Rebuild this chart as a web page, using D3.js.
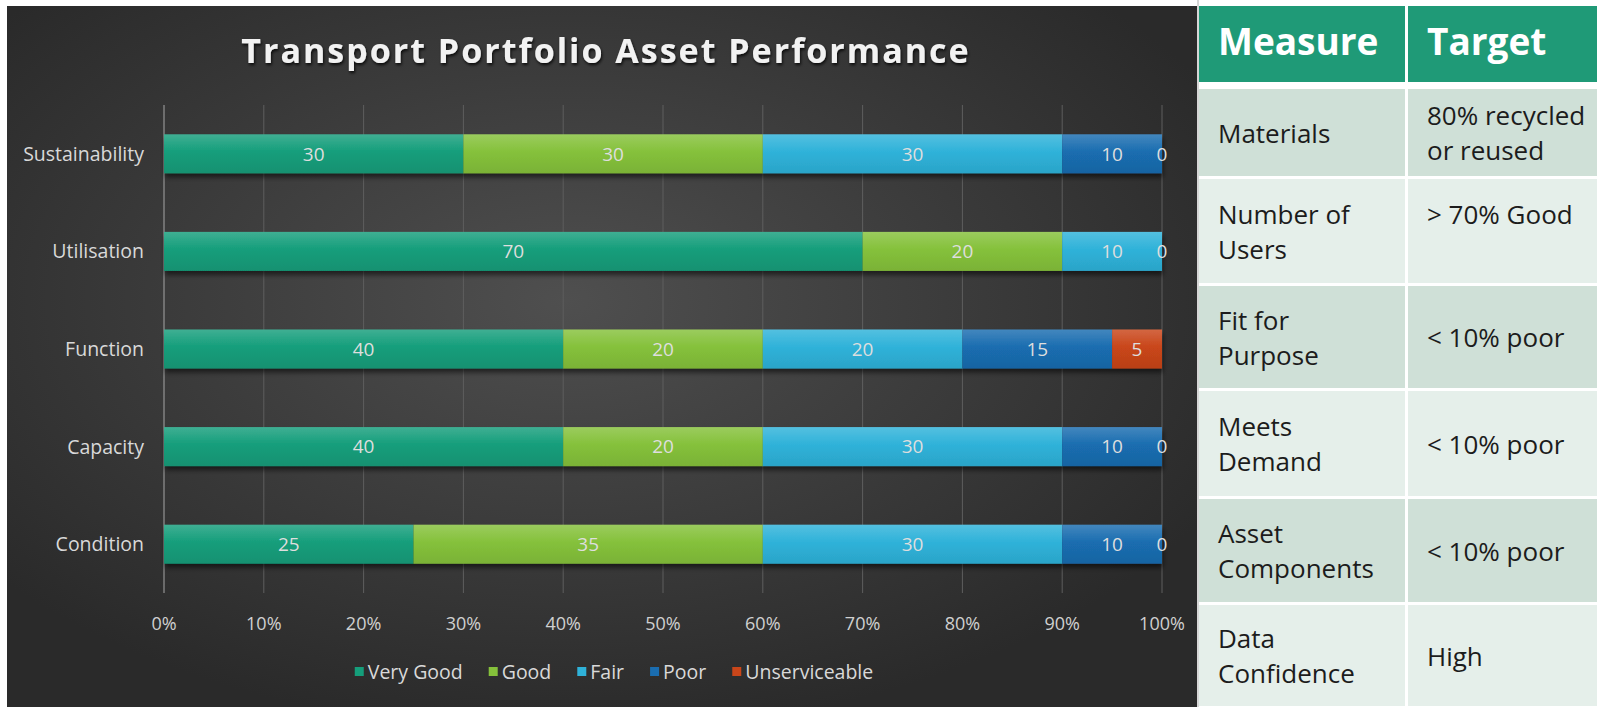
<!DOCTYPE html>
<html>
<head>
<meta charset="utf-8">
<script src="https://cdn.jsdelivr.net/npm/d3@7"></script>
<style>
  body { margin: 0; background: #ffffff; }
  svg { display: block; }
</style>
</head>
<body>
<div id="chart"></div>
<script>
// chart data
let categories = ["Sustainability", "Utilisation", "Function", "Capacity", "Condition"]
let seriesNames = ["Very Good", "Good", "Fair", "Poor", "Unserviceable"]
let veryGood = [30, 70, 40, 40, 25]
let good = [30, 20, 20, 20, 35]
let fair = [30, 10, 20, 30, 30]
let poor = [10, 0, 15, 10, 10]
let unserviceable = [0, null, 5, 0, 0]
let xTicks = [0, 10, 20, 30, 40, 50, 60, 70, 80, 90, 100]
let colors = ["#159e7b", "#85c13b", "#2fb2d9", "#1a6db0", "#c9461a"]

// table data
let tableHead = ["Measure", "Target"]
let measures = [["Materials"], ["Number of", "Users"], ["Fit for", "Purpose"], ["Meets", "Demand"], ["Asset", "Components"], ["Data", "Confidence"]]
let targets = [["80% recycled", "or reused"], ["> 70% Good", ""], ["< 10% poor"], ["< 10% poor"], ["< 10% poor"], ["High"]]

let seriesValues = [veryGood, good, fair, poor, unserviceable]

var W = 1597, H = 707
var panel = {x: 7, y: 6, w: 1190, h: 701}
var plot = {left: 164, right: 1162, top: 105, bottom: 593}

var svg = d3.select("#chart")
  .append("svg")
  .attr("width", W)
  .attr("height", H)

var defs = svg.append("defs")

var bg = defs.append("radialGradient")
  .attr("id", "bg")
  .attr("cx", "47%").attr("cy", "42%").attr("r", "62%")
bg.append("stop").attr("offset", "0%").attr("stop-color", "#4f4f4f")
bg.append("stop").attr("offset", "100%").attr("stop-color", "#2a2a2a")

colors.forEach(function(c, i) {
  var g = defs.append("linearGradient")
    .attr("id", "bar" + i)
    .attr("x1", 0).attr("y1", 0).attr("x2", 0).attr("y2", 1)
  g.append("stop").attr("offset", "0%").attr("stop-color", d3.interpolateRgb(c, "#ffffff")(0.18))
  g.append("stop").attr("offset", "45%").attr("stop-color", c)
  g.append("stop").attr("offset", "100%").attr("stop-color", d3.interpolateRgb(c, "#000000")(0.08))
})

var shadow = defs.append("filter").attr("id", "shadow")
  .attr("x", "-5%").attr("y", "-30%").attr("width", "110%").attr("height", "180%")
shadow.append("feDropShadow")
  .attr("dx", 1).attr("dy", 4).attr("stdDeviation", 2.5)
  .attr("flood-color", "#000").attr("flood-opacity", 0.55)

var tshadow = defs.append("filter").attr("id", "tshadow")
  .attr("x", "-5%").attr("y", "-30%").attr("width", "110%").attr("height", "180%")
tshadow.append("feDropShadow")
  .attr("dx", 1).attr("dy", 2).attr("stdDeviation", 1.5)
  .attr("flood-color", "#000").attr("flood-opacity", 0.8)

// chart panel
svg.append("rect")
  .attr("x", panel.x).attr("y", panel.y)
  .attr("width", panel.w).attr("height", panel.h)
  .attr("fill", "url(#bg)")

svg.append("text")
  .attr("x", 606)
  .attr("y", 63)
  .attr("text-anchor", "middle")
  .attr("font-family", "Open Sans")
  .attr("font-weight", "bold")
  .attr("font-size", 34)
  .attr("letter-spacing", 2)
  .attr("fill", "#f2f2f2")
  .attr("filter", "url(#tshadow)")
  .text("Transport Portfolio Asset Performance")

var x = d3.scaleLinear()
  .domain([0, 100])
  .range([plot.left, plot.right])

var y = d3.scaleBand()
  .domain(categories)
  .range([plot.top, plot.bottom])
  .paddingInner(0.6)
  .paddingOuter(0.3)

// gridlines
svg.append("g")
  .attr("class", "grid")
  .selectAll("line")
  .data(xTicks)
  .join("line")
  .attr("x1", d => x(d)).attr("x2", d => x(d))
  .attr("y1", plot.top).attr("y2", plot.bottom)
  .attr("stroke", d => d === 0 ? "#a6a6a6" : "#5e5e5e")
  .attr("stroke-width", 1)

svg.append("g")
  .selectAll("text")
  .data(xTicks)
  .join("text")
  .attr("x", d => x(d))
  .attr("y", 630)
  .attr("text-anchor", "middle")
  .attr("font-family", "Open Sans")
  .attr("font-size", 18)
  .attr("fill", "#d0d0d0")
  .text(d => d + "%")

svg.append("g")
  .selectAll("text")
  .data(categories)
  .join("text")
  .attr("x", plot.left - 20)
  .attr("y", d => y(d) + y.bandwidth() / 2)
  .attr("dy", "0.36em")
  .attr("text-anchor", "end")
  .attr("font-family", "Open Sans")
  .attr("font-size", 19.5)
  .attr("fill", "#d9d9d9")
  .text(d => d)

// stacked bars
let rows = categories.map(function(c, i) {
  var r = {category: c}
  seriesNames.forEach(function(s, j) { r[s] = seriesValues[j][i] || 0 })
  return r
})
let stacked = d3.stack().keys(seriesNames)(rows)

var bars = svg.append("g").attr("filter", "url(#shadow)")
stacked.forEach(function(layer, j) {
  bars.append("g")
    .selectAll("rect")
    .data(layer)
    .join("rect")
    .attr("x", d => x(d[0]))
    .attr("y", d => y(d.data.category))
    .attr("width", d => x(d[1]) - x(d[0]))
    .attr("height", y.bandwidth())
    .attr("fill", "url(#bar" + j + ")")
})

stacked.forEach(function(layer, j) {
  svg.append("g")
    .selectAll("text")
    .data(layer.filter((d, i) => seriesValues[j][i] !== null))
    .join("text")
    .attr("x", d => x((d[0] + d[1]) / 2))
    .attr("y", d => y(d.data.category) + y.bandwidth() / 2)
    .attr("dy", "0.36em")
    .attr("text-anchor", "middle")
    .attr("font-family", "Open Sans")
    .attr("font-size", 19)
    .attr("fill", "#dedede")
    .text(d => d[1] - d[0])
})

// legend
var legend = svg.append("g")
var lx = 0
seriesNames.forEach(function(s, j) {
  legend.append("rect")
    .attr("x", lx).attr("y", -5)
    .attr("width", 9).attr("height", 9)
    .attr("fill", colors[j])
  var t = legend.append("text")
    .attr("x", lx + 13)
    .attr("y", 0)
    .attr("dy", "0.36em")
    .attr("font-family", "Open Sans")
    .attr("font-size", 19.5)
    .attr("fill", "#d9d9d9")
    .text(s)
  lx += 13 + t.node().getComputedTextLength() + 26
})
lx -= 26
legend.attr("transform", "translate(" + (614 - lx / 2) + ",672)")

svg.append("rect")
  .attr("x", 1197).attr("y", 0).attr("width", 2).attr("height", H)
  .attr("fill", "#d6d6d6")

// table
var col1 = 1199, col2 = 1408, colEnd = 1597
var rowHeights = [87, 104, 102, 105, 103, 101]
var table = svg.append("g")

table.append("rect")
  .attr("x", col1).attr("y", 6)
  .attr("width", col2 - 3 - col1).attr("height", 76)
  .attr("fill", "#1f9a77")
table.append("rect")
  .attr("x", col2).attr("y", 6)
  .attr("width", colEnd - col2).attr("height", 76)
  .attr("fill", "#1f9a77")

table.selectAll("text.head")
  .data(tableHead)
  .join("text")
  .attr("class", "head")
  .attr("x", (d, i) => (i === 0 ? col1 : col2) + 19)
  .attr("y", 55)
  .attr("font-family", "Open Sans")
  .attr("font-weight", "bold")
  .attr("font-size", 37)
  .attr("fill", "#ffffff")
  .text(d => d)

var rowY = 89
measures.forEach(function(m, i) {
  var h = rowHeights[i]
  var fill = i % 2 === 0 ? "#cfe0d7" : "#e5efea"
  table.append("rect")
    .attr("x", col1).attr("y", rowY)
    .attr("width", col2 - 3 - col1).attr("height", h)
    .attr("fill", fill)
  table.append("rect")
    .attr("x", col2).attr("y", rowY)
    .attr("width", colEnd - col2).attr("height", h)
    .attr("fill", fill)
  var cy = rowY + h / 2
  ;[m, targets[i]].forEach(function(lines, c) {
    table.append("g")
      .selectAll("text")
      .data(lines)
      .join("text")
      .attr("x", (c === 0 ? col1 : col2) + 19)
      .attr("y", (d, k) => cy + 10 + (k - (lines.length - 1) / 2) * 35)
      .attr("font-family", "Open Sans")
      .attr("font-size", 26)
      .attr("fill", "#1c1c1c")
      .text(d => d)
  })
  rowY += h + 3
})
</script>
</body>
</html>
